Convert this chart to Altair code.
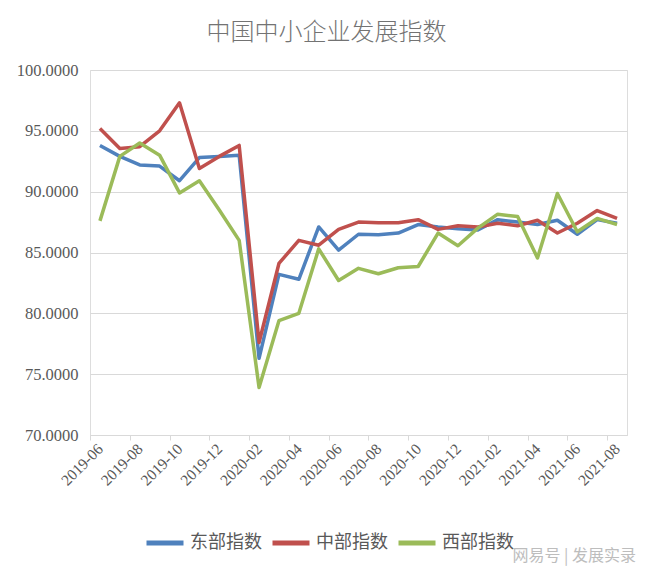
import altair as alt
import pandas as pd

months = ["2019-06", "2019-07", "2019-08", "2019-09", "2019-10", "2019-11", "2019-12",
          "2020-01", "2020-02", "2020-03", "2020-04", "2020-05", "2020-06", "2020-07",
          "2020-08", "2020-09", "2020-10", "2020-11", "2020-12", "2021-01", "2021-02",
          "2021-03", "2021-04", "2021-05", "2021-06", "2021-07", "2021-08"]

east = [93.8, 92.9, 92.2, 92.1, 90.9, 92.8, 92.9, 93.0, 76.3, 83.2, 82.8, 87.1, 85.2, 86.5,
        86.45, 86.6, 87.3, 87.1, 86.95, 86.85, 87.7, 87.5, 87.3, 87.65, 86.5, 87.7, 87.4]
central = [95.2, 93.55, 93.7, 95.0, 97.3, 91.9, 92.9, 93.8, 77.6, 84.1, 86.0, 85.6, 86.9, 87.5,
           87.45, 87.45, 87.7, 86.9, 87.2, 87.1, 87.4, 87.2, 87.65, 86.6, 87.4, 88.45, 87.8]
west = [87.6, 92.9, 94.0, 93.0, 89.9, 90.9, 88.5, 86.0, 73.9, 79.4, 80.0, 85.3, 82.7, 83.7,
        83.25, 83.75, 83.85, 86.6, 85.55, 87.0, 88.15, 87.95, 84.55, 89.85, 86.7, 87.8, 87.3]

series_names = ["东部指数", "中部指数", "西部指数"]
series_colors = ["#4F81BD", "#C0504D", "#9BBB59"]
y_ticks = [70, 75, 80, 85, 90, 95, 100]
x_tick_values = months[::2]

rows = []
for name, vals in zip(series_names, [east, central, west]):
    for m, v in zip(months, vals):
        rows.append({"month": m, "value": v, "series": name})
df = pd.DataFrame(rows)

W, H = 537, 365
step = W / len(months)

lines = alt.Chart(df).mark_line(strokeWidth=3.5, strokeJoin="round").encode(
    x=alt.X("month:O", sort=months,
            scale=alt.Scale(type="point", padding=0.5),
            axis=alt.Axis(title=None, values=x_tick_values, labelAngle=-45,
                          labelAlign="right", labelBaseline="middle",
                          labelFont="Liberation Serif", labelFontSize=15.5,
                          labelColor="#595959", labelPadding=6,
                          tickOffset=-step / 2, labelOffset=step / 2,
                          tickColor="#d9d9d9", tickSize=5, domainColor="#d9d9d9",
                          domainWidth=1, grid=False)),
    y=alt.Y("value:Q",
            scale=alt.Scale(domain=[70, 100], nice=False, zero=False),
            axis=alt.Axis(title=None, values=y_ticks, format=".4f",
                          labelFont="Liberation Serif", labelFontSize=16.5,
                          labelColor="#595959", labelPadding=12,
                          ticks=False, domain=False, grid=True,
                          gridColor="#d9d9d9", gridWidth=1)),
    color=alt.Color("series:N", sort=series_names,
                    scale=alt.Scale(domain=series_names, range=series_colors),
                    legend=alt.Legend(title=None, orient="none", direction="horizontal",
                                      legendX=54, legendY=452, padding=0,
                                      symbolType="stroke", symbolSize=1369,
                                      symbolStrokeWidth=5, columnPadding=0,
                                      labelFont="Noto Sans CJK SC", labelFontSize=18,
                                      labelColor="#595959", labelOffset=4)),
    order=alt.Order("month:O"),
)

watermark_df = pd.DataFrame({"t": ["网易号 | 发展实录"]})
watermark = alt.Chart(watermark_df).mark_text(
    align="right", baseline="middle", font="Noto Sans CJK SC", fontSize=16,
    color="#bdbdbd"
).encode(x=alt.value(546), y=alt.value(486), text="t:N")

chart = alt.layer(lines, watermark).properties(
    width=W, height=H,
    autosize=alt.AutoSizeParams(type="none"),
    padding={"left": 82, "top": 62, "right": 15, "bottom": 140},
    title=alt.Title("中国中小企业发展指数", font="Noto Sans CJK SC", fontSize=24,
                    fontWeight=300, color="#737373", anchor="middle",
                    offset=17, dx=-32),
).configure_view(stroke=None).configure(background="white")

chart.save("out.html", embed_options={"renderer": "svg", "actions": False})
